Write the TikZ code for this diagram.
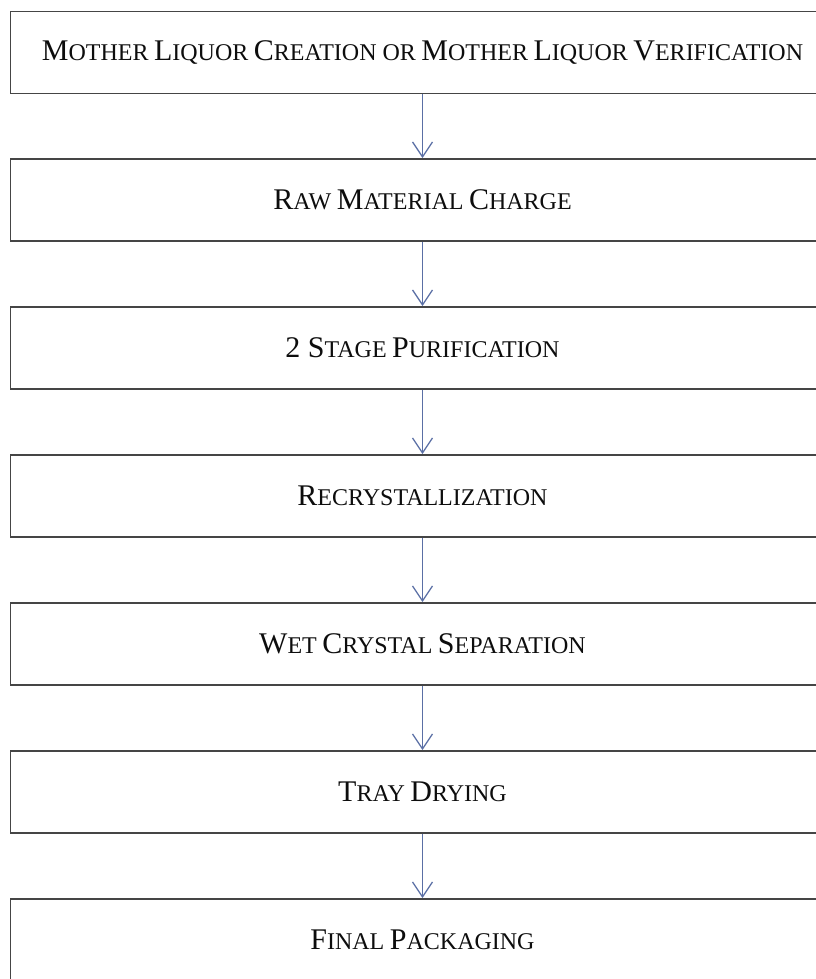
\documentclass[tikz,border=0pt]{standalone}
\usepackage{fontspec}
\setmainfont{Liberation Serif}
\usetikzlibrary{arrows.meta}
\definecolor{boxline}{HTML}{454545}
\definecolor{arrowblue}{HTML}{5A6FA5}
\newcommand\bigL[1]{{\fontsize{30}{32}\selectfont #1}}
\newcommand\smL[1]{{\fontsize{24}{26}\selectfont #1}}
\tikzset{
  stepbox/.style={draw=boxline, line width=1.8pt, minimum width=824pt, minimum height=82pt, inner sep=0pt, text=black!95, font=\fontsize{22}{24}\selectfont},
  flowarrow/.style={draw=arrowblue, line width=1.3pt, -{Straight Barb[length=15pt,width=20pt,line width=1.3pt]}}
}
\begin{document}
\begin{tikzpicture}[x=1pt,y=-1pt]
\useasboundingbox (0,0) rectangle (815,979);
\node[stepbox] (b1) at (422.5,52.5) {\bigL{M}\smL{OTHER} \bigL{L}\smL{IQUOR} \bigL{C}\smL{REATION OR} \bigL{M}\smL{OTHER} \bigL{L}\smL{IQUOR} \bigL{V}\smL{ERIFICATION}};
\node[stepbox] (b2) at (422.5,200) {\bigL{R}\smL{AW} \bigL{M}\smL{ATERIAL} \bigL{C}\smL{HARGE}};
\node[stepbox] (b3) at (422.5,348) {\bigL{2 S}\smL{TAGE} \bigL{P}\smL{URIFICATION}};
\node[stepbox] (b4) at (422.5,496) {\bigL{R}\smL{ECRYSTALLIZATION}};
\node[stepbox] (b5) at (422.5,644) {\bigL{W}\smL{ET} \bigL{C}\smL{RYSTAL} \bigL{S}\smL{EPARATION}};
\node[stepbox] (b6) at (422.5,792) {\bigL{T}\smL{RAY} \bigL{D}\smL{RYING}};
\node[stepbox] (b7) at (422.5,940) {\bigL{F}\smL{INAL} \bigL{P}\smL{ACKAGING}};
\draw[flowarrow] (b1.south) -- (b2.north);
\draw[flowarrow] (b2.south) -- (b3.north);
\draw[flowarrow] (b3.south) -- (b4.north);
\draw[flowarrow] (b4.south) -- (b5.north);
\draw[flowarrow] (b5.south) -- (b6.north);
\draw[flowarrow] (b6.south) -- (b7.north);
\end{tikzpicture}
\end{document}
